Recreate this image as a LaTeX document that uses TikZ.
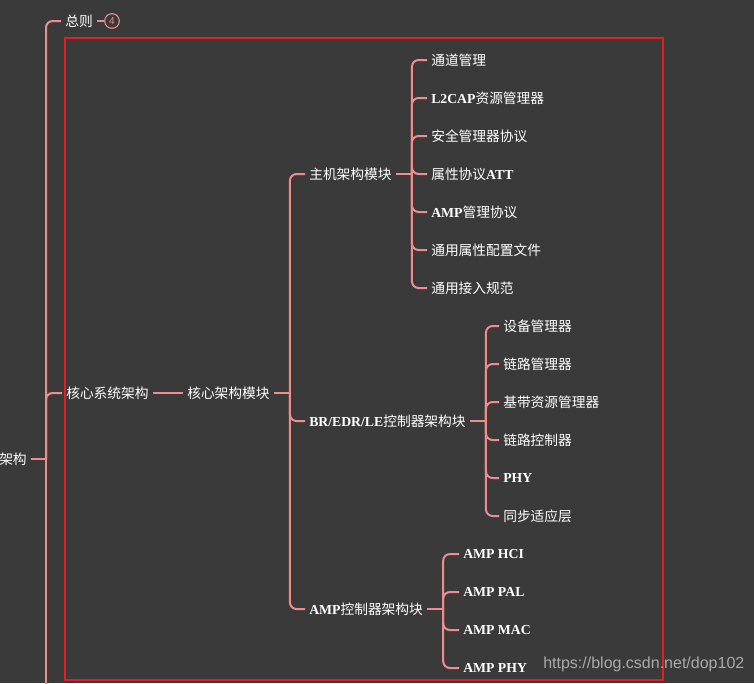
\documentclass[tikz,border=0pt]{standalone}
\usepackage{fontspec}
\setmainfont{Liberation Serif}
\setsansfont{Liberation Sans}
\newfontfamily\cjk{Noto Sans CJK SC}
\usetikzlibrary{positioning, calc}
\definecolor{mapbg}{RGB}{58, 58, 58}
\definecolor{linkpink}{RGB}{240, 140, 140}
\definecolor{framered}{RGB}{232, 28, 36}
\definecolor{markgray}{RGB}{170, 170, 170}
\newcommand{\latn}[1]{{\rmfamily\bfseries #1}}

\begin{document}
\begin{tikzpicture}[
  x=0.75pt, y=-0.75pt,
  topic/.style  = {anchor=west, inner sep=3pt, text=white,
                   font=\cjk\fontsize{10.3}{12}\selectfont},
  root/.style   = {topic, anchor=east},
  count/.style  = {circle, draw=linkpink, line width=0.8pt, inner sep=0pt,
                   minimum size=11pt, text=linkpink, font=\sffamily\fontsize{7.5}{8}\selectfont},
  link/.style   = {draw=linkpink, line width=1.5pt, rounded corners=5pt},
  frame/.style  = {draw=framered, line width=1.5pt},
  wmark/.style  = {anchor=west, inner sep=0pt, text=markgray,
                   font=\sffamily\fontsize{12}{14}\selectfont}
]

\useasboundingbox (0,0) rectangle (754,683);
\fill[mapbg] (0,0) rectangle (754,683);

%% Root and first level
\node[root] (arch) at (31,459) {架构};
\node[topic] (rule) at (61,21) {总则};
\node[count] (rulen) at (112,21) {4};
\node[topic] (sys) at (62,393) {核心系统架构};

%% Core modules
\node[topic] (core) at (183,393) {核心架构模块};
\node[topic] (host) at (305,174) {主机架构模块};
\node[topic] (ctrl) at (305,421) {\latn{BR/EDR/LE}控制器架构块};
\node[topic] (amp) at (305,609) {\latn{AMP}控制器架构块};

%% Trunk
\draw[link] (arch.east) -- ++(15,0) coordinate (trunk);
\draw[link] (trunk) |- (rule.west);
\draw[link] (trunk) |- (sys.west);
\coordinate (trunkend) at (46,690);
\draw[link] (trunk) -- (trunkend);
\draw[link] (rule.east) -- (rulen.west);
\draw[link] (sys.east) -- (core.west);

\draw[link] (core.east) -- ++(16,0) coordinate (corej);
\foreach \n in {host, ctrl, amp}
  \draw[link] (corej) |- (\n.west);

%% Host children
\draw[link] (host.east) -- ++(16,0) coordinate (hostj);
\foreach \txt [count=\i] in {通道管理, \latn{L2CAP}资源管理器, 安全管理器协议,
    属性协议\latn{ATT}, \latn{AMP}管理协议, 通用属性配置文件, 通用接入规范} {
  \node[topic] (host\i) at (427,22+38*\i) {\txt};
  \draw[link] (hostj) |- (host\i.west);
}

%% BR/EDR/LE children
\draw[link] (ctrl.east) -- ++(16,0) coordinate (ctrlj);
\foreach \txt [count=\i] in {设备管理器, 链路管理器, 基带资源管理器,
    链路控制器, \latn{PHY}, 同步适应层} {
  \node[topic] (ctrl\i) at (499,288+38*\i) {\txt};
  \draw[link] (ctrlj) |- (ctrl\i.west);
}

%% AMP children
\draw[link] (amp.east) -- ++(16,0) coordinate (ampj);
\foreach \txt [count=\i] in {AMP HCI, AMP PAL, AMP MAC, AMP PHY} {
  \node[topic] (amp\i) at (459,516+38*\i) {\latn{\txt}};
  \draw[link] (ampj) |- (amp\i.west);
}

%% Highlight frame and watermark
\draw[frame] (65,38) rectangle (663,680);
\node[wmark] (wm) at (543,664) {https://blog.csdn.net/dop102};

\end{tikzpicture}
\end{document}
